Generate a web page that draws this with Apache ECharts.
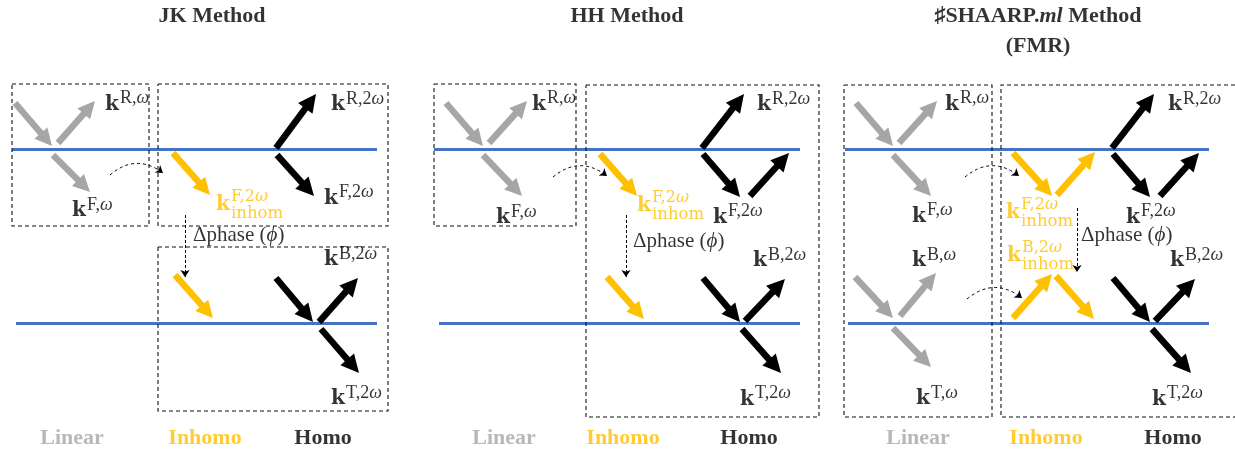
<!DOCTYPE html>
<html><head><meta charset="utf-8">
<script src="https://cdn.jsdelivr.net/npm/echarts@6/dist/echarts.min.js"></script>
<style>html,body{margin:0;padding:0;background:#fff}#c{width:1235px;height:455px}</style>
</head><body><div id="c"></div>
<script>
// ---- diagram data (drawing-space units: x 0..1235, y 0..455 downward) ----
const interfaces = [[12,377,149],[16,377,323],[434,800,149],[439,800,323],[845,1209,149],[848,1209,323]];
const boxes = [[12,84,149,226],[158,84,388,226],[158,247,388,411],[434,84,576,226],[586,85,819,417],[844,85,992,417]];
const openBoxes = [[1001,85,1235,417]];
const grayArrows = [
  [15,103,52,146],[58,143,95,101],[53,155,90,192],
  [446,103,483,146],[489,143,527,101],[483,155,522,196],
  [856,103,893,146],[899,143,937,101],[893,155,931,196],
  [855,277,893,318],[900,316,936,273],[893,328,931,367]
];
const yellowArrows = [
  [173,153,210,195],[175,275,213,318],
  [600,154,637,196],[607,277,644,319],
  [1013,153,1052,196],[1057,195,1095,152],[1013,318,1052,274],[1056,276,1094,319]
];
const blackArrows = [
  [276,148,316,94],[277,155,314,196],[276,278,313,322],[319,322,358,278],[321,329,359,373],
  [702,148,744,94],[703,154,740,197],[750,196,789,153],[703,278,740,322],[745,321,785,279],[742,329,781,373],
  [1112,148,1154,94],[1113,154,1150,197],[1160,196,1199,153],[1113,278,1150,322],[1155,321,1195,279],[1152,329,1191,373]
];
const curvedArrows = [[110,175,163,173],[553,177,607,176],[965,177,1019,176],[967,299,1022,298]];
const phaseArrows = [[185,215,277],[626,215,277],[1077,208,272]];
const phaseLabels = [[193,235],[633,241],[1081,235]];
const kLabels = [
  [105,104.5,'R,ω'],[72,211,'F,ω'],[331,105,'R,2ω'],[324,198.5,'F,2ω'],[324,260,'B,2ω'],[331,399,'T,2ω'],
  [532,104.5,'R,ω'],[496,218,'F,ω'],[757,105,'R,2ω'],[713,217.5,'F,2ω'],[753,261,'B,2ω'],[740,399.5,'T,2ω'],
  [945,104.5,'R,ω'],[912,216.5,'F,ω'],[912,261,'B,ω'],[916,399,'T,ω'],
  [1168,105,'R,2ω'],[1126,217.5,'F,2ω'],[1170,261,'B,2ω'],[1152,399.5,'T,2ω']
];
const inhomLabels = [[216,204.5,'F,2ω'],[637,205.5,'F,2ω'],[1006,213,'F,2ω'],[1007,255.5,'B,2ω']];
const titles = [[212,16,'JK Method'],[627,16,'HH Method'],[1038,16,'♯SHAARP.ml Method'],[1038,46,'(FMR)']];
const bottomLabels = [
  [72,438,'Linear'],[205,438,'Inhomo'],[323,438,'Homo'],
  [504,438,'Linear'],[623,438,'Inhomo'],[749,438,'Homo'],
  [918,438,'Linear'],[1046,438,'Inhomo'],[1173,438,'Homo']
];
const bottomColors = {Linear:'#A6A6A6', Inhomo:'#FFC000', Homo:'#000000'};

// ---- helpers ----
const GRAY='#A6A6A6', YEL='#FFC000', BLK='#000000', BLUE='#4472C4';
function arrowData(list, head){
  return list.map(a=>{
    const dx=a[2]-a[0], dy=a[3]-a[1], L=Math.hypot(dx,dy), s=(L-head/2)/L;
    return {coords:[[a[0],a[1]],[a[0]+dx*s,a[1]+dy*s]]};
  });
}
function arrowSeries(list, color, head, width){
  return {type:'lines', coordinateSystem:'cartesian2d', silent:true, z:3,
    data: arrowData(list, head), symbol:['none','triangle'], symbolSize:head,
    lineStyle:{color, width, opacity:1, cap:'butt'}};
}
function textSeries(data, formatter, label, z){
  return {type:'scatter', silent:true, z:z||10, symbolSize:1, itemStyle:{color:'rgba(0,0,0,0)'},
    data: data.map(d=>({value:[d[0],d[1]], name:String(d[2]||'')})),
    label:Object.assign({show:true, position:[0.5,0.5], formatter, textBorderWidth:0}, label)};
}
const supFmt = p => '{s|' + p.name.replace('ω','}{w|ω}');

const series = [
  {type:'lines', coordinateSystem:'cartesian2d', silent:true, z:1,
   data: interfaces.map(l=>({coords:[[l[0],l[2]],[l[1],l[2]]]})),
   lineStyle:{color:BLUE, width:3, opacity:1}},
  {type:'lines', coordinateSystem:'cartesian2d', polyline:true, silent:true, z:2,
   data: boxes.map(b=>({coords:[[b[0],b[1]],[b[2],b[1]],[b[2],b[3]],[b[0],b[3]],[b[0],b[1]]]}))
     .concat(openBoxes.map(b=>({coords:[[b[2],b[1]],[b[0],b[1]],[b[0],b[3]],[b[2],b[3]]]}))),
   lineStyle:{color:'#111', width:1.1, type:[4,3], opacity:1}},
  arrowSeries(grayArrows, GRAY, 17, 6.5),
  arrowSeries(yellowArrows, YEL, 17, 6.5),
  arrowSeries(blackArrows, BLK, 18, 6.5),
  {type:'lines', coordinateSystem:'cartesian2d', silent:true, z:4,
   data: curvedArrows.map(a=>({coords:[[a[0],a[1]],[a[2],a[3]]]})),
   symbol:['none','arrow'], symbolSize:7,
   lineStyle:{color:'#000', width:1, type:[3,3], opacity:1, curveness:0.4}},
  {type:'lines', coordinateSystem:'cartesian2d', silent:true, z:4,
   data: phaseArrows.map(a=>({coords:[[a[0],a[1]],[a[0],a[2]]]})),
   symbol:['none','arrow'], symbolSize:7,
   lineStyle:{color:'#000', width:1, type:[3,2], opacity:1}},
  // k labels
  textSeries(kLabels, ()=>'k', {align:'left', verticalAlign:'middle', color:BLK,
    fontFamily:'DejaVu Serif', fontWeight:'bold', fontSize:20}),
  textSeries(kLabels, supFmt, {align:'left', verticalAlign:'middle', offset:[15,-6],
    rich:{s:{fontFamily:'Liberation Serif', fontSize:18, color:BLK},
          w:{fontFamily:'Liberation Serif', fontStyle:'italic', fontSize:18, color:BLK}}}),
  textSeries(inhomLabels, ()=>'k', {align:'left', verticalAlign:'middle', color:YEL,
    fontFamily:'DejaVu Serif', fontWeight:'bold', fontSize:20}),
  textSeries(inhomLabels, supFmt, {align:'left', verticalAlign:'middle', offset:[15,-8],
    rich:{s:{fontFamily:'DejaVu Serif', fontSize:16, color:YEL},
          w:{fontFamily:'DejaVu Serif', fontStyle:'italic', fontSize:16, color:YEL}}}),
  textSeries(inhomLabels.map(d=>[d[0],d[1],'inhom']), p=>p.name, {align:'left', verticalAlign:'middle', offset:[15,9],
    fontFamily:'DejaVu Serif', fontSize:16.5, color:YEL}),
  textSeries(phaseLabels.map(d=>[d[0],d[1],'Δphase (ϕ)']), ()=>'{t|Δphase (}{i|ϕ}{t|)}', {align:'left', verticalAlign:'middle',
    rich:{t:{fontFamily:'Liberation Serif', fontSize:21, color:'#000'},
          i:{fontFamily:'Liberation Serif', fontStyle:'italic', fontSize:21, color:'#000'}}}),
  textSeries(titles, p=>'{t|' + p.name.replace('.ml', '.}{i|ml}{t|') + '}', {align:'center', verticalAlign:'middle',
    rich:{t:{fontFamily:'Liberation Serif', fontWeight:'bold', fontSize:22, color:'#000'},
          i:{fontFamily:'Liberation Serif', fontWeight:'bold', fontStyle:'italic', fontSize:22, color:'#000'}}}),
  textSeries(bottomLabels, p=>'{'+p.name+'|'+p.name+'}', {align:'center', verticalAlign:'middle',
    rich:Object.fromEntries(Object.keys(bottomColors).map(k=>[k,{fontFamily:'Liberation Serif', fontWeight:'bold', fontSize:22, color:bottomColors[k]}]))})
];

const chart = echarts.init(document.getElementById('c'), null, {renderer:'canvas'});
chart.setOption({
  animation:false,
  grid:{left:0,right:0,top:0,bottom:0},
  xAxis:{type:'value', min:0, max:1235, show:false},
  yAxis:{type:'value', min:0, max:455, inverse:true, show:false},
  series
});
</script></body></html>
